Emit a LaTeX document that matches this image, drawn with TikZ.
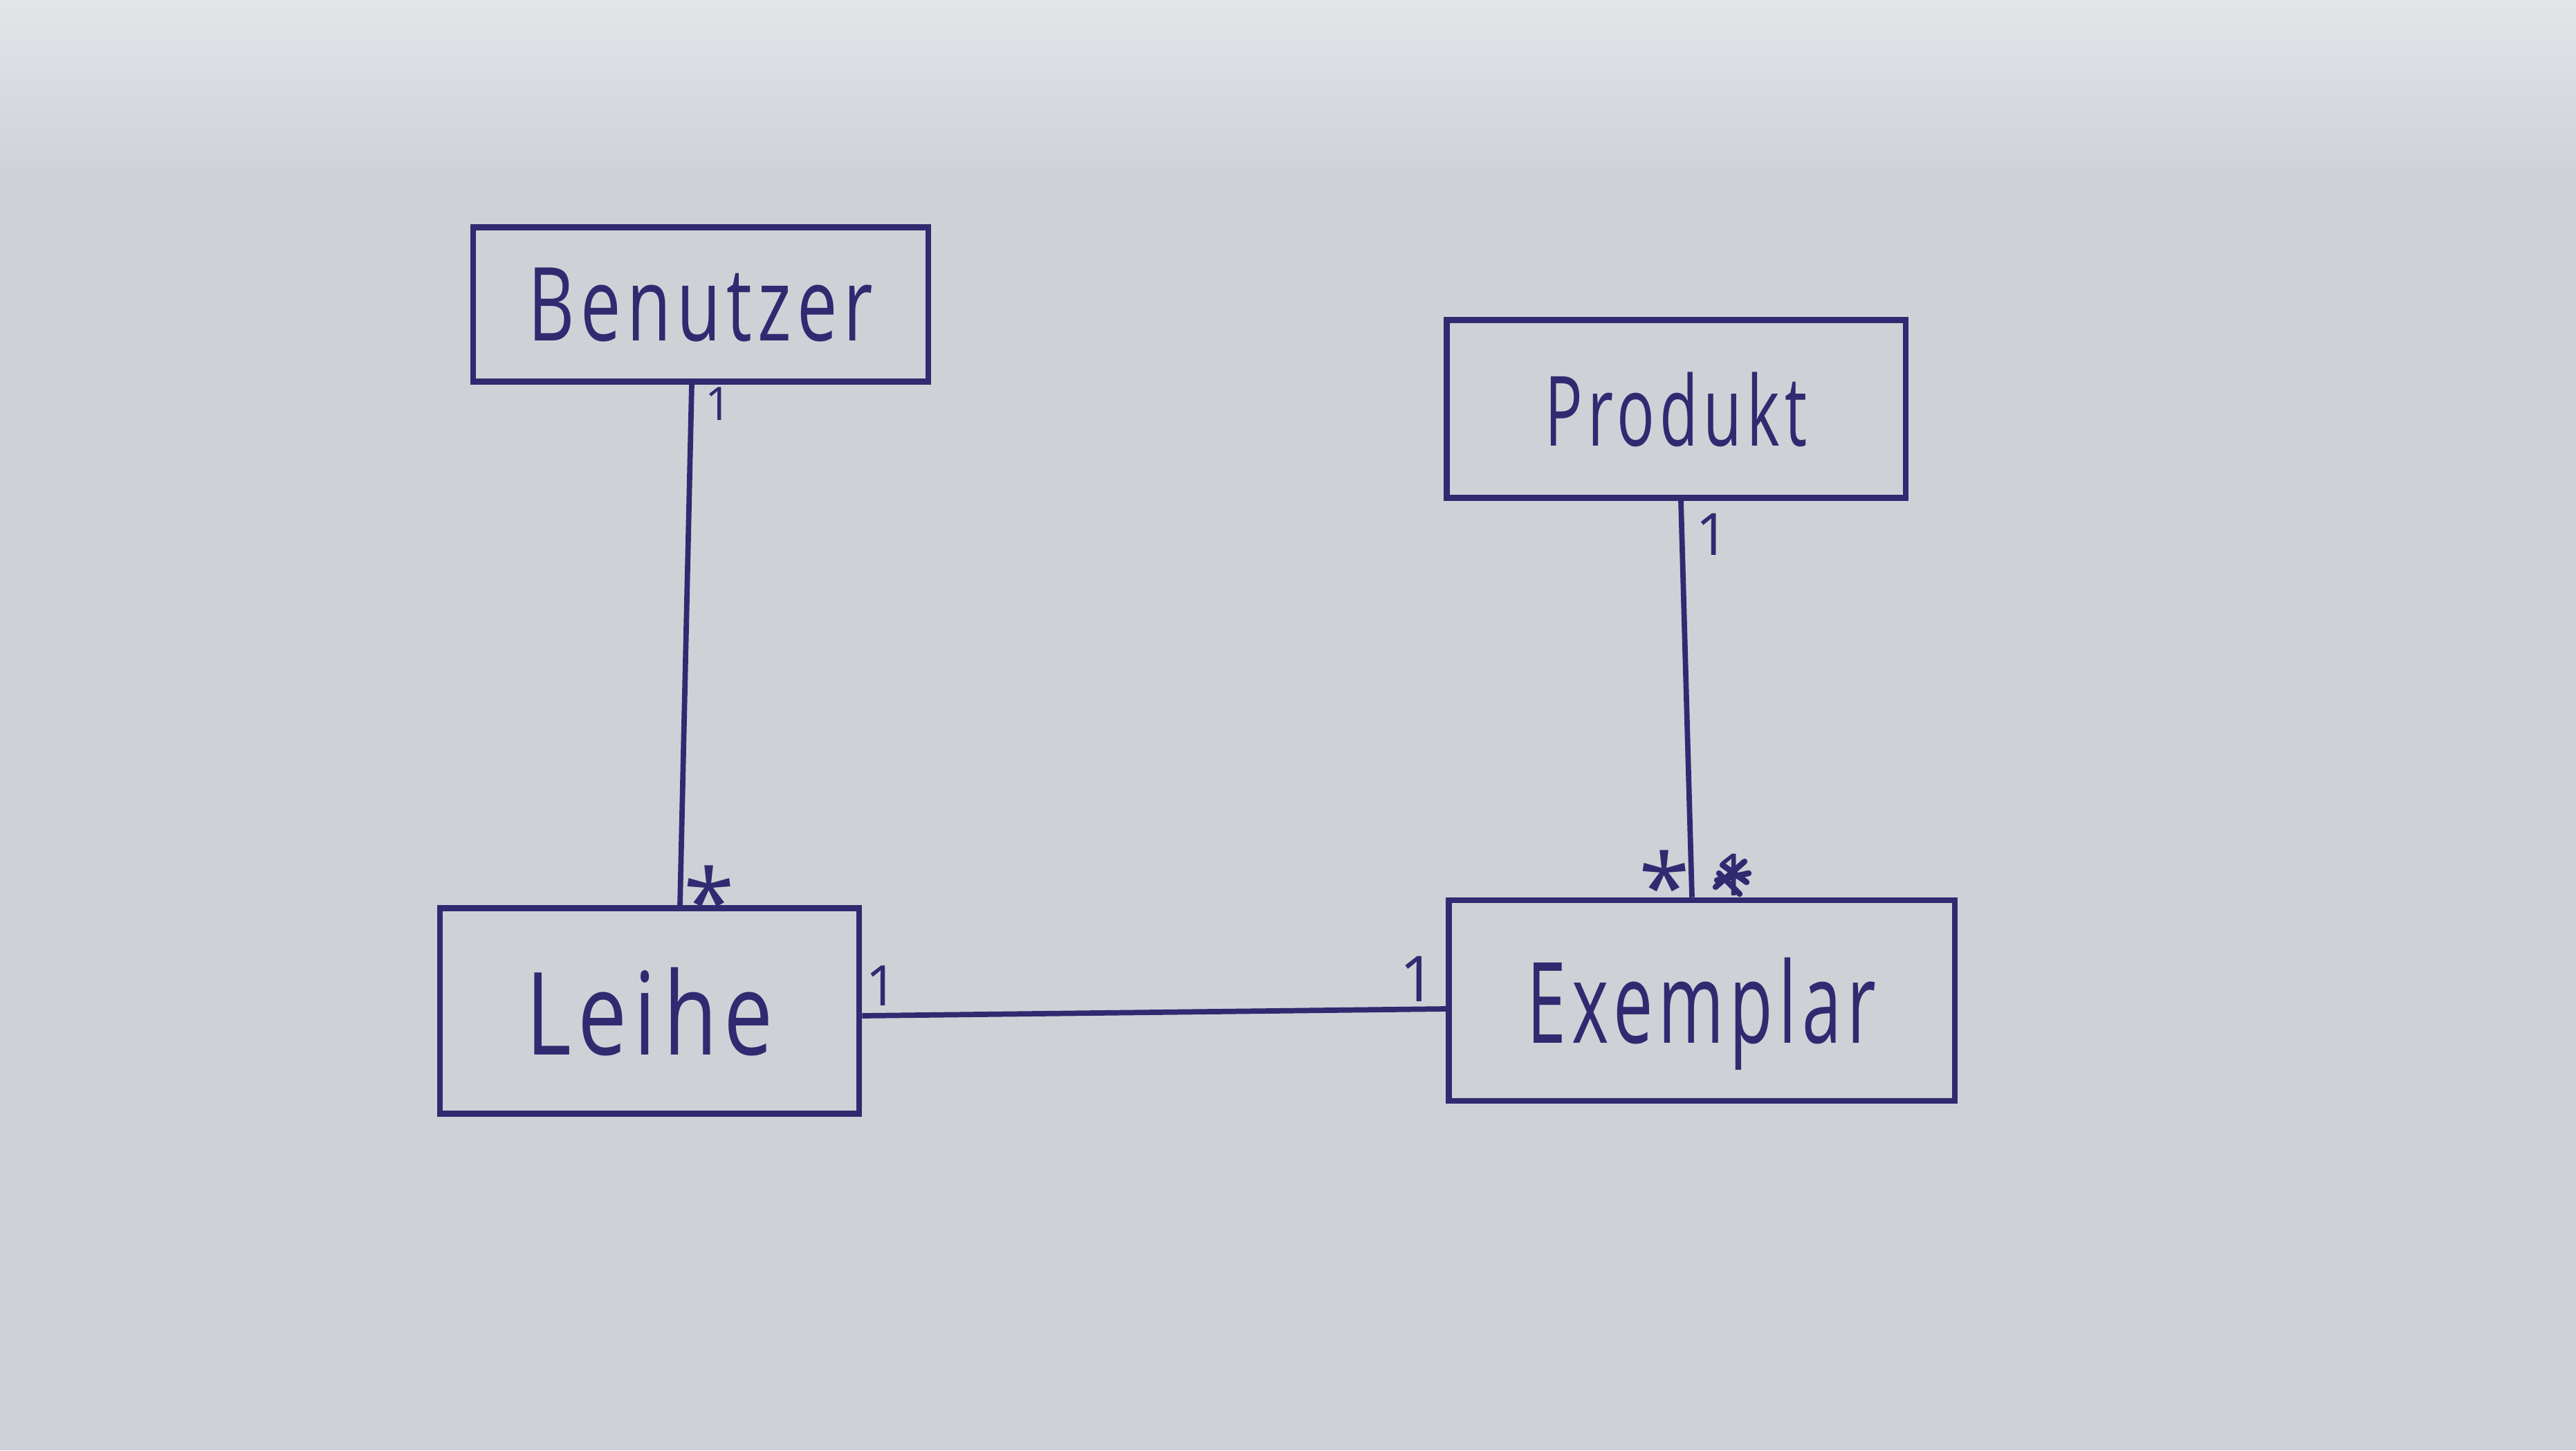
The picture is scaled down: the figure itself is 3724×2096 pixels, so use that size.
\documentclass[tikz,border=0pt]{standalone}
\usepackage{fontspec}
\setmainfont{Open Sans}
\usepackage{graphicx}
\definecolor{ink}{RGB}{48,42,112}
\definecolor{paper}{RGB}{207,209,215}
\definecolor{papertop}{RGB}{228,229,233}
\begin{document}
\begin{tikzpicture}[x=0.01cm,y=-0.01cm,
  cls/.style={draw=ink,line width=2.4pt,inner sep=0pt,text=ink,text depth=0pt},
  mult/.style={text=ink,inner sep=0pt,text depth=0pt},
  starlbl/.style={text=ink,inner sep=0pt,anchor=north,font=\fontsize{38}{38}\selectfont},
  conn/.style={draw=ink,line width=2.2pt}]
\useasboundingbox (0,0) rectangle (3724,2096);
\shade[top color=papertop,bottom color=paper] (0,0) rectangle (3724,260);
\fill[paper] (0,260) rectangle (3724,2096);

\node[cls,minimum width=6.58cm,minimum height=2.23cm,font=\fontsize{40}{45}\selectfont\addfontfeature{LetterSpace=8}] (ben) at (1013,440) {\scalebox{0.74}[1.05]{Benutzer}};
\node[cls,minimum width=6.63cm,minimum height=2.57cm,font=\fontsize{38}{42}\selectfont\addfontfeature{LetterSpace=8}] (prod) at (2423,591) {\scalebox{0.68}[1.05]{Produkt}};
\node[cls,minimum width=6.06cm,minimum height=2.97cm,font=\fontsize{45}{50}\selectfont\addfontfeature{LetterSpace=8}] (lei) at (939,1461) {\scalebox{0.80}[1.05]{Leihe}};
\node[cls,minimum width=7.31cm,minimum height=2.90cm,font=\fontsize{44}{48}\selectfont\addfontfeature{LetterSpace=8}] (exe) at (2460,1446) {\scalebox{0.66}[1.05]{Exemplar}};

\draw[conn] ([xshift=-0.13cm]ben.south) -- ([xshift=0.44cm]lei.north);
\draw[conn] ([xshift=0.07cm]prod.south) -- ([xshift=-0.14cm]exe.north);
\draw[conn] ([yshift=-0.07cm]lei.east) -- ([yshift=-0.12cm]exe.west);

\node[mult,font=\fontsize{19}{19}\selectfont] (m1) at (1039,584) {1};
\node[starlbl] (s1) at (1025,1250) {*};
\node[mult,font=\fontsize{23}{23}\selectfont] (m2) at (1275,1425) {1};
\node[mult,font=\fontsize{26}{26}\selectfont] (m3) at (2050,1415) {1};
\node[mult,font=\fontsize{24}{24}\selectfont] (m4) at (2476,772) {1};
\node[starlbl] (s2) at (2406,1228) {*};
\node[mult,font=\fontsize{24}{24}\selectfont] (m5) at (2505,1264) {1};
\draw[ink,line width=2.4pt,line cap=round] (2480,1282) -- (2522,1245) (2485,1262) -- (2515,1292) (2490,1250) -- (2525,1275) (2482,1272) -- (2528,1262);
\end{tikzpicture}
\end{document}
